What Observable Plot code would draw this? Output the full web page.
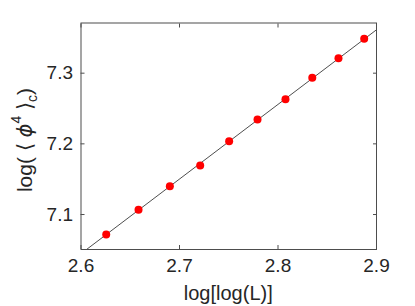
<!DOCTYPE html>
<html>
<head>
<meta charset="utf-8">
<script src="https://cdn.jsdelivr.net/npm/d3@7"></script>
<script src="https://cdn.jsdelivr.net/npm/@observablehq/plot@0.6"></script>
<style>
  html, body { margin: 0; padding: 0; background: #fff; }
  #chart { width: 415px; height: 306px; }
</style>
</head>
<body>
<div id="chart"></div>
<script>
const logLogL = [2.6256, 2.6584, 2.6902, 2.7210, 2.7504, 2.7792, 2.8076, 2.8348, 2.8614, 2.8875];
const logPhi4 = [7.0717, 7.1066, 7.1400, 7.1693, 7.2038, 7.2344, 7.2632, 7.2935, 7.3212, 7.3487];
const fitX = [2.6, 2.9];
const fitY = [7.0446, 7.3614];
const xTicks = [2.6, 2.7, 2.8, 2.9];
const yTicks = [7.1, 7.2, 7.3];
const xDomain = [2.6, 2.9];
const yDomain = [7.0505, 7.371];
const xLabel = "log[log(L)]";

const pts = logLogL.map((x, i) => ({x, y: logPhi4[i]}));
const fit = fitX.map((x, i) => ({x, y: fitY[i]}));

const axisColor = "#4d4d4d";
const textColor = "#262626";
const font = "Liberation Sans, Arial, sans-serif";

const chart = Plot.plot({
  width: 415,
  height: 306,
  marginLeft: 80.5,
  marginRight: 39,
  marginTop: 22.5,
  marginBottom: 57,
  style: {fontFamily: font, background: "#fff", color: textColor},
  x: {domain: xDomain},
  y: {domain: yDomain},
  marks: [
    Plot.line(fit, {x: "x", y: "y", stroke: "#000", strokeWidth: 0.7, clip: true}),
    Plot.dot(pts, {x: "x", y: "y", r: 4, fill: "#ff0000", stroke: "none"}),
    Plot.axisX(xTicks, {anchor: "bottom", tickSize: -4, stroke: axisColor, tickFormat: () => "", label: null}),
    Plot.axisX(xTicks, {anchor: "top", tickSize: -4, stroke: axisColor, tickFormat: () => "", label: null}),
    Plot.axisY(yTicks, {anchor: "left", tickSize: -4, stroke: axisColor, tickFormat: () => "", label: null}),
    Plot.axisY(yTicks, {anchor: "right", tickSize: -4, stroke: axisColor, tickFormat: () => "", label: null}),
    Plot.axisX(xTicks, {anchor: "bottom", tickSize: 0, tickPadding: 9, fontSize: 19, fill: textColor, tickFormat: d3.format(".1f"), label: null}),
    Plot.axisY(yTicks, {anchor: "left", tickSize: 0, tickPadding: 8, fontSize: 19, fill: textColor, tickFormat: d3.format(".1f"), label: null}),
    Plot.frame({stroke: axisColor, strokeWidth: 1})
  ]
});

document.getElementById("chart").appendChild(chart);
const svg = d3.select(chart);

// x-axis label
svg.append("text")
  .attr("x", (80.5 + 376) / 2)
  .attr("y", 300)
  .attr("text-anchor", "middle")
  .attr("font-family", font)
  .attr("font-size", 20)
  .attr("fill", textColor)
  .text(xLabel);

// y-axis label with sub/superscripts
const cy = 140;
const t = svg.append("text")
  .attr("transform", `translate(32,${cy}) rotate(-90)`)
  .attr("text-anchor", "middle")
  .attr("font-family", font)
  .attr("font-size", 21)
  .attr("fill", textColor);
t.append("tspan").text("log( \u27E8 ");
t.append("tspan").attr("font-style", "italic").attr("font-family", "DejaVu Sans, sans-serif").text("\u03D5");
t.append("tspan").attr("font-size", 14).attr("dy", -11).text("4");
t.append("tspan").attr("dy", 11).text(" \u27E9");
t.append("tspan").attr("font-size", 14).attr("dy", 5).text("c");
t.append("tspan").attr("dy", -5).text(")");
</script>
</body>
</html>
